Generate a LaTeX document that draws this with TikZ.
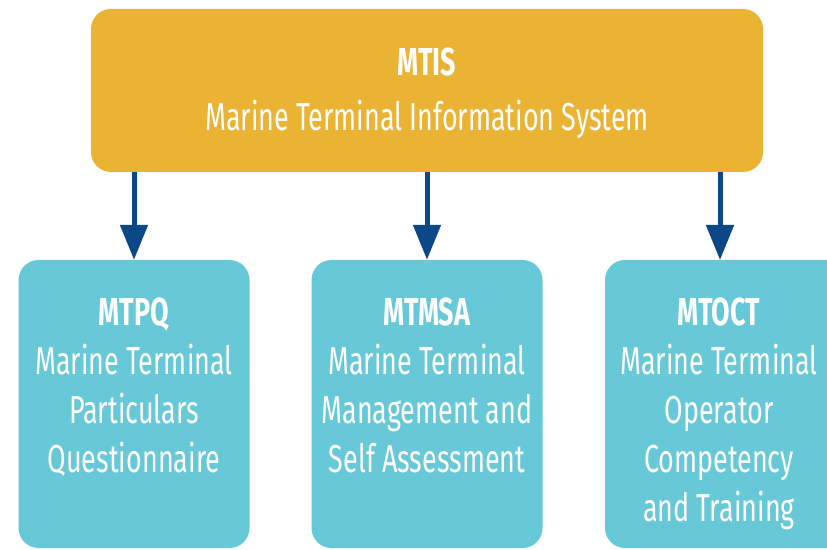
\documentclass[tikz,border=0pt]{standalone}
\usepackage{fontspec}
\setmainfont{Fira Sans}[FakeStretch=0.69]
\usetikzlibrary{arrows.meta}
\definecolor{gold}{RGB}{234,179,51}
\definecolor{teal}{RGB}{103,200,216}
\definecolor{navy}{RGB}{12,72,135}
\begin{document}
\begin{tikzpicture}[x=1pt,y=1pt,
  topbox/.style={fill=gold,rounded corners=20pt,minimum width=672pt,minimum height=163pt,inner sep=0pt},
  subbox/.style={fill=teal,rounded corners=20pt,minimum width=231pt,minimum height=288pt,inner sep=0pt},
  lbl/.style={text=white,align=center,inner sep=0pt,font=\fontsize{39}{49}\selectfont},
  toplbl/.style={text=white,align=center,inner sep=0pt,font=\fontsize{39}{55}\selectfont},
  arr/.style={draw=navy,line width=5pt,-{Triangle[width=27pt,length=35pt]}}]
\useasboundingbox (0,0) rectangle (827,549);
\clip (0,0) rectangle (827,549);
\fill[white] (0,0) rectangle (827,549);
% top box
\node[topbox] (top) at (427,458.5) {};
\node[toplbl,anchor=north] (toptxt) at (427,549-48) {\textbf{MTIS}\\Marine Terminal Information System};
% sub boxes
\node[subbox] (pq) at (134,145) {};
\node[subbox] (msa) at (427,145) {};
\node[subbox,minimum width=250pt] (oct) at (730,145) {};
\node[lbl,anchor=north] (pqtxt) at (134,549-298) {\textbf{MTPQ}\\Marine Terminal\\Particulars\\Questionnaire};
\node[lbl,anchor=north] (msatxt) at (427,549-298) {\textbf{MTMSA}\\Marine Terminal\\Management and\\Self Assessment};
\node[lbl,anchor=north] (octtxt) at (719,549-298) {\textbf{MTOCT}\\Marine Terminal\\Operator\\Competency\\and Training};
% arrows
\coordinate (octin) at (720,289);
\draw[arr] (top.south -| pq.north) -- (pq.north);
\draw[arr] (top.south -| msa.north) -- (msa.north);
\draw[arr] (top.south -| octin) -- (octin);
\end{tikzpicture}
\end{document}
